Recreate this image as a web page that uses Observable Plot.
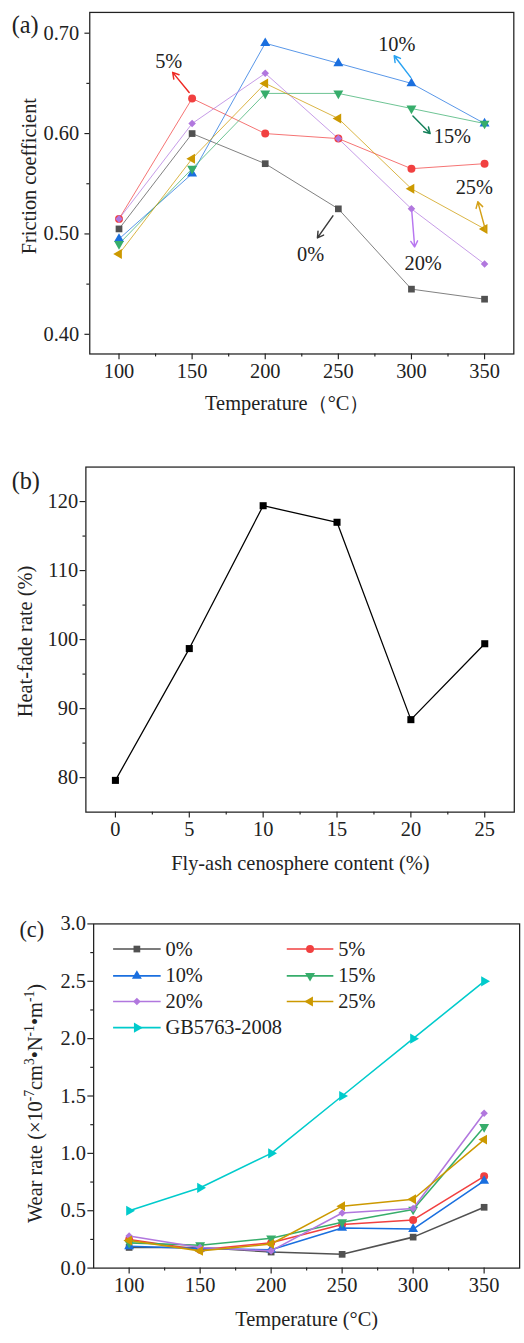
<!DOCTYPE html>
<html><head><meta charset="utf-8">
<script src="https://cdn.jsdelivr.net/npm/d3@7"></script>
<script src="https://cdn.jsdelivr.net/npm/@observablehq/plot@0.6"></script>
<style>
html,body{margin:0;padding:0;overflow:hidden;background:#fff;width:524px;height:1343px}
#wrap{position:relative;width:524px;height:1343px;overflow:hidden}
.panel{position:absolute;left:0}
.panel svg text{font-family:"Liberation Serif","Times New Roman",serif !important}
</style></head><body><div id="wrap"></div>
<script>
// ---------- data ----------
const temps = [100, 150, 200, 250, 300, 350];
const seriesLabels = ["0%", "5%", "10%", "15%", "20%", "25%"];

// (a) friction coefficient
const friction0  = [0.505, 0.600, 0.570, 0.525, 0.445, 0.435];
const friction5  = [0.515, 0.635, 0.600, 0.595, 0.565, 0.570];
const friction10 = [0.495, 0.560, 0.690, 0.670, 0.650, 0.610];
const friction15 = [0.490, 0.565, 0.640, 0.640, 0.625, 0.610];
const friction20 = [0.515, 0.610, 0.660, 0.595, 0.525, 0.470];
const friction25 = [0.480, 0.575, 0.650, 0.615, 0.545, 0.505];
const frictionTicks = [0.40, 0.50, 0.60, 0.70];
const frictionMinor = [0.45, 0.55, 0.65];
const tempTicks = [100, 150, 200, 250, 300, 350];
const tempMinor = [125, 175, 225, 275, 325];

// (a) annotations (data units)
const annLabels = ["5%", "10%", "15%", "25%", "20%", "0%"];
const annTextX  = [134, 290, 328, 343, 308, 231];
const annTextY  = [0.672, 0.689, 0.597, 0.546, 0.471, 0.480];
const annFromX  = [148.0, 299.5, 301.0, 350.7, 300.2, 246.3];
const annFromY  = [0.641, 0.656, 0.6176, 0.5035, 0.523, 0.518];
const annToX    = [136.7, 288.2, 312.8, 345.4, 302.2, 235.7];
const annToY    = [0.661, 0.6775, 0.600, 0.532, 0.487, 0.496];

// (b) heat-fade rate
const contents = [0, 5, 10, 15, 20, 25];
const heatFade = [79.6, 98.7, 119.4, 117.0, 88.4, 99.4];
const heatTicks = [80, 90, 100, 110, 120];
const heatMinor = [85, 95, 105, 115];
const contentTicks = [0, 5, 10, 15, 20, 25];
const contentMinor = [2.5, 7.5, 12.5, 17.5, 22.5];

// (c) wear rate
const wear0  = [0.18, 0.18, 0.14, 0.12, 0.27, 0.53];
const wear5  = [0.25, 0.16, 0.22, 0.38, 0.42, 0.80];
const wear10 = [0.19, 0.17, 0.16, 0.35, 0.34, 0.76];
const wear15 = [0.22, 0.20, 0.26, 0.40, 0.51, 1.23];
const wear20 = [0.28, 0.18, 0.15, 0.48, 0.52, 1.35];
const wear25 = [0.24, 0.15, 0.21, 0.54, 0.60, 1.12];
const wearGB = [0.50, 0.70, 1.00, 1.50, 2.00, 2.50];
const wearLabels = ["0%", "5%", "10%", "15%", "20%", "25%", "GB5763-2008"];
const wearTicks = [0, 0.5, 1.0, 1.5, 2.0, 2.5, 3.0];
const wearMinor = [0.25, 0.75, 1.25, 1.75, 2.25, 2.75];
// legend layout (data units)
const legendColX1 = [88.7, 211.0];
const legendColX2 = [122.2, 243.8];
const legendColText = [125.6, 247.2];
const legendRowY = [2.781, 2.547, 2.324, 2.096];

// ---------- styles ----------
const FONT = '"Liberation Serif","Times New Roman",serif';
const INK = "#222";
const palette = ["#515151", "#F14040", "#1A6FDF", "#37AD6B", "#B177DE", "#CC9900", "#00CBCC"];
const symbols = ["square", "circle", "triangle", "triangle", "diamond2", "triangle", "triangle"];
const rotations = [0, 0, 0, 180, 0, -90, 90];
const radii = [3.9, 4.1, 3.8, 3.8, 3.5, 3.8, 3.9];
const annColors = ["#EE2A24", "#2AA3F2", "#14805A", "#D4A017", "#B877F0", "#3A3A3A"];

const wrap = document.getElementById("wrap");
function place(svg, top) {
  d3.select(svg).selectAll("text").attr("font-family", FONT);
  const d = document.createElement("div");
  d.className = "panel"; d.style.top = top + "px";
  d.appendChild(svg); wrap.appendChild(d);
}
function addText(svg, str, x, y, opt = {}) {
  const t = d3.select(svg).append("text")
    .attr("transform", `translate(${x},${y})` + (opt.rotate ? ` rotate(${opt.rotate})` : ""))
    .attr("text-anchor", opt.anchor || "middle")
    .attr("font-family", FONT)
    .attr("font-size", opt.size || 21)
    .attr("fill", INK)
    .text(str);
  return t;
}
function axesFor(yT, yM, xT, xM, yFmt, ySize, yPad) {
  const f = {fontFamily: FONT, fontSize: 21};
  return [
    Plot.axisY(yT, {...f, tickSize: ySize, tickPadding: yPad, tickFormat: yFmt, label: null, strokeWidth: 1.2}),
    Plot.axisY(yM, {...f, tickSize: 3, tickFormat: () => "", label: null, strokeWidth: 1.2}),
    Plot.axisX(xT, {...f, tickSize: 6, tickPadding: 4, label: null, strokeWidth: 1.2}),
    Plot.axisX(xM, {...f, tickSize: 3, tickFormat: () => "", label: null, strokeWidth: 1.2}),
    Plot.frame({stroke: INK, strokeWidth: 1.3})
  ];
}
const styleBase = {fontFamily: FONT, fontSize: "21px", color: INK, background: "transparent"};

// ---------- panel (a) ----------
const frictionSeries = [friction0, friction5, friction10, friction15, friction20, friction25];
const marksA = [];
frictionSeries.forEach((arr, i) => {
  const d = temps.map((t, j) => ({t, v: arr[j]}));
  marksA.push(Plot.line(d, {x: "t", y: "v", stroke: palette[i], strokeWidth: 1, strokeOpacity: 0.75}));
});
frictionSeries.forEach((arr, i) => {
  const d = temps.map((t, j) => ({t, v: arr[j]}));
  marksA.push(Plot.dot(d, {x: "t", y: "v", symbol: symbols[i], r: radii[i], rotate: rotations[i], fill: palette[i], stroke: "none"}));
});
annLabels.forEach((lab, i) => {
  marksA.push(Plot.arrow([i], {x1: annFromX[i], y1: annFromY[i], x2: annToX[i], y2: annToY[i], stroke: annColors[i], strokeWidth: 1.5, headLength: 7}));
  marksA.push(Plot.text([lab], {x: annTextX[i], y: annTextY[i], text: d => d, fill: INK, fontSize: 21, fontFamily: FONT}));
});
const svgA = Plot.plot({
  width: 540, height: 430, marginTop: 12.3, marginBottom: 65.7, marginLeft: 92, marginRight: 11,
  x: {domain: [80, 370]}, y: {domain: [0.3804, 0.7207]},
  style: styleBase,
  marks: [...axesFor(frictionTicks, frictionMinor, tempTicks, tempMinor, d3.format(".2f"), 5, 6), ...marksA]
});
addText(svgA, "(a)", 12, 34.5, {anchor: "start", size: 25});
addText(svgA, "Temperature（°C）", 296, 423);
addText(svgA, "Friction coefficient", 37, 262, {rotate: -90, anchor: "start"});
place(svgA, 0);

// ---------- panel (b) ----------
const heatData = contents.map((c, j) => ({c, v: heatFade[j]}));
const svgB = Plot.plot({
  width: 540, height: 465, marginTop: 37.7, marginBottom: 71.7, marginLeft: 88, marginRight: 10.5,
  x: {domain: [-2, 27]}, y: {domain: [75, 125]},
  style: styleBase,
  marks: [
    ...axesFor(heatTicks, heatMinor, contentTicks, contentMinor, d3.format("d"), 6, 2),
    Plot.line(heatData, {x: "c", y: "v", stroke: "#000", strokeWidth: 1.3}),
    Plot.dot(heatData, {x: "c", y: "v", symbol: "square", r: 4.1, fill: "#000"})
  ]
});
addText(svgB, "(b)", 12, 61, {anchor: "start", size: 25});
addText(svgB, "Fly-ash cenosphere content (%)", 309.5, 453);
addText(svgB, "Heat-fade rate (%)", 33, 296, {rotate: -90, anchor: "start"});
place(svgB, 430);

// ---------- panel (c) ----------
const wearSeries = [wear0, wear5, wear10, wear15, wear20, wear25, wearGB];
const marksC = [];
wearSeries.forEach((arr, i) => {
  const d = temps.map((t, j) => ({t, v: arr[j]}));
  marksC.push(Plot.line(d, {x: "t", y: "v", stroke: palette[i], strokeWidth: 1.6}));
  marksC.push(Plot.dot(d, {x: "t", y: "v", symbol: symbols[i], r: radii[i], rotate: rotations[i], fill: palette[i], stroke: "none"}));
});
wearLabels.forEach((lab, i) => {
  const col = i % 2, row = Math.floor(i / 2);
  const yv = legendRowY[row];
  marksC.push(Plot.link([i], {x1: legendColX1[col], x2: legendColX2[col], y1: yv, y2: yv, stroke: palette[i], strokeWidth: 1.6}));
  marksC.push(Plot.dot([i], {x: (legendColX1[col] + legendColX2[col]) / 2, y: yv, symbol: symbols[i], r: radii[i], rotate: rotations[i], fill: palette[i]}));
  marksC.push(Plot.text([lab], {x: legendColText[col], y: yv, text: d => d, textAnchor: "start", fill: INK, fontSize: 21, fontFamily: FONT}));
});
const svgC = Plot.plot({
  width: 540, height: 448, marginTop: 29.3, marginBottom: 64, marginLeft: 96, marginRight: 5,
  x: {domain: [75, 375]}, y: {domain: [0, 3]},
  style: styleBase,
  marks: [...axesFor(wearTicks, wearMinor, tempTicks, tempMinor, d3.format(".1f"), 6, 2), ...marksC]
});
addText(svgC, "(c)", 20, 43, {anchor: "start", size: 23});
addText(svgC, "Temperature (°C)", 316, 444);
{
  const t = d3.select(svgC).append("text")
    .attr("transform", "translate(43,338) rotate(-90)")
    .attr("text-anchor", "start").attr("font-family", FONT).attr("font-size", 21).attr("fill", INK);
  const parts = [["Wear rate (×10", 0], ["-7", 1], ["cm", 0], ["3", 1], ["•N", 0], ["-1", 1], ["•m", 0], ["-1", 1], [")", 0]];
  parts.forEach(([s, sup], k) => {
    const ts = t.append("tspan").text(s);
    if (sup) ts.attr("font-size", 14).attr("dy", -8);
    else if (k > 0 && parts[k - 1][1]) ts.attr("dy", 8);
  });
}
place(svgC, 895);
</script></body></html>
